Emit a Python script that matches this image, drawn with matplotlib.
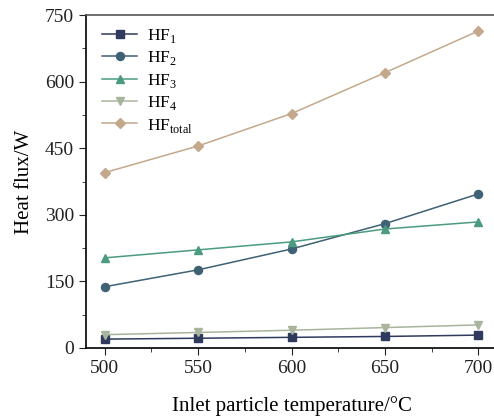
import matplotlib
matplotlib.use("Agg")
import matplotlib.pyplot as plt
from matplotlib.ticker import MultipleLocator

plt.rcParams["font.family"] = ["Liberation Serif", "DejaVu Serif"]
plt.rcParams["mathtext.fontset"] = "custom"
plt.rcParams["mathtext.rm"] = "Liberation Serif"

temps = [500, 550, 600, 650, 700]
hf1 = [20, 22, 24, 26, 29]
hf2 = [138, 176, 223, 280, 347]
hf3 = [203, 221, 239, 268, 284]
hf4 = [30, 35, 40, 46, 52]
hf_total = [395, 455, 528, 620, 714]

series = [
    (hf1, r"HF$_\mathrm{1}$", "#2f3a5e", "s"),
    (hf2, r"HF$_\mathrm{2}$", "#3e6174", "o"),
    (hf3, r"HF$_\mathrm{3}$", "#4b9b80", "^"),
    (hf4, r"HF$_\mathrm{4}$", "#a8b59c", "v"),
    (hf_total, r"HF$_\mathrm{total}$", "#c4a88b", "D"),
]

fig = plt.figure(figsize=(4.94, 4.18), dpi=100)
ax = fig.add_axes([86 / 494, 70 / 418, 411 / 494, 333 / 418])

for vals, lab, col, mk in series:
    ms = 5 if mk == "D" else 5.8
    ax.plot(temps, vals, color=col, marker=mk, markersize=ms, linewidth=1.1, label=lab)

ax.set_xlim(490, 710)
ax.set_ylim(0, 750)
ax.xaxis.set_major_locator(MultipleLocator(50))
ax.xaxis.set_minor_locator(MultipleLocator(25))
ax.yaxis.set_major_locator(MultipleLocator(150))
ax.yaxis.set_minor_locator(MultipleLocator(75))
ax.tick_params(which="both", direction="out", labelsize=14, colors="#222222")
ax.tick_params(which="major", length=5)
ax.tick_params(which="minor", length=3)
ax.spines["right"].set_visible(False)
ax.spines["top"].set_color("#555555")
ax.spines["top"].set_linewidth(1.2)
ax.spines["left"].set_linewidth(1.2)
ax.spines["bottom"].set_linewidth(1.2)

ax.set_xlabel("Inlet particle temperature/°C", fontsize=15, labelpad=14)
ax.set_ylabel("Heat flux/W", fontsize=15, labelpad=8)

ax.legend(loc="upper left", frameon=False, fontsize=12.5, handlelength=2.0,
          handletextpad=0.6, labelspacing=0.25, borderaxespad=0.3,
          bbox_to_anchor=(0.01, 1.0))

fig.savefig("out.png", dpi=100)
